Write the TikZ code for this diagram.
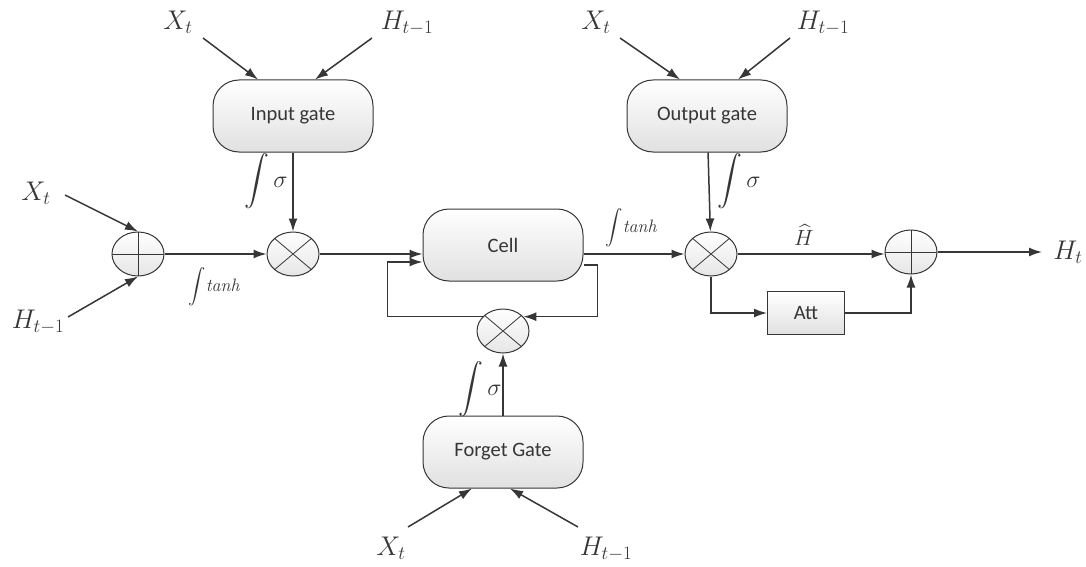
\RequirePackage{fix-cm}
\documentclass[tikz,border=0pt]{standalone}
\usepackage{amsmath}
\usepackage{fontspec}
\setsansfont{Carlito}
\usepackage{tikz}
\usetikzlibrary{shapes.geometric,arrows.meta}
\definecolor{ink}{HTML}{363636}
\tikzset{%
  gate/.style    = {draw=ink, line width=1pt, rectangle, rounded corners=26pt,
    minimum width=160pt, minimum height=72pt, top color=white,
    bottom color=black!12, font=\sffamily\fontsize{20.5}{24}\selectfont},
  mult/.style    = {draw=ink, line width=1pt, ellipse, minimum width=52pt,
    minimum height=44pt, inner sep=0pt, top color=white, bottom color=black!10,
    path picture={\draw[ink, line width=0.8pt]
      (path picture bounding box.north west) -- (path picture bounding box.south east)
      (path picture bounding box.north east) -- (path picture bounding box.south west);}}, % Multiplier
  adder/.style   = {draw=ink, line width=1pt, ellipse, minimum width=52pt,
    minimum height=44pt, inner sep=0pt, top color=white, bottom color=black!10,
    path picture={\draw[ink, line width=0.8pt]
      (path picture bounding box.north) -- (path picture bounding box.south)
      (path picture bounding box.west) -- (path picture bounding box.east);}}, % Adder
  attbox/.style  = {draw=ink, line width=1pt, rectangle, minimum width=77pt,
    minimum height=43pt, top color=white, bottom color=black!12,
    font=\sffamily\fontsize{20.5}{24}\selectfont},
  lbl/.style     = {inner sep=1pt, font=\fontsize{27}{30}\selectfont},
  fn/.style      = {inner sep=0pt, font=\fontsize{24}{28}\selectfont},
  small/.style   = {inner sep=0pt, font=\itshape\fontsize{18}{20}\selectfont}
}

\begin{document}
\begin{tikzpicture}[x=1pt, y=-1pt, color=ink, line width=1.5pt,
  >={Latex[length=13pt,width=9pt]}]
\useasboundingbox (0,0) rectangle (1086,567);
\draw
    node at(293,116)[gate,name=igate]{Input gate}
    node at(707,116)[gate,name=ogate]{Output gate}
    node at(503,245)[gate,name=cell]{Cell}
    node at(503,452)[gate,name=fgate]{Forget Gate}

    node at(138,254)[adder,name=inadd]{}
    node at(293,254)[mult,name=imul]{}
    node at(503,331)[mult,name=fmul]{}
    node at(711,254)[mult,name=omul]{}
    node at(911,252)[adder,name=outadd]{}
    node at(806,313)[attbox,name=att]{Att}

    node at(178,22)[lbl,name=xin]{$X_t$}
    node at(407,23)[lbl,name=hin]{$H_{t-1}$}
    node at(596,22)[lbl,name=xout]{$X_t$}
    node at(823,23)[lbl,name=hout]{$H_{t-1}$}
    node at(36,193)[lbl,name=xcell]{$X_t$}
    node at(38,322)[lbl,name=hcell]{$H_{t-1}$}
    node at(391,548)[lbl,name=xfgt]{$X_t$}
    node at(606,549)[lbl,name=hfgt]{$H_{t-1}$}
    node at(1068,252)[lbl,name=ht]{$H_t$}
;

    % starts of the input arrows
    \coordinate (xin0) at (203,38);
    \coordinate (hin0) at (372,38);
    \coordinate (xout0) at (620,38);
    \coordinate (hout0) at (790,38);
    \coordinate (xcell0) at (65,195);
    \coordinate (hcell0) at (68,317);
    \coordinate (xfgt0) at (408,527);
    \coordinate (hfgt0) at (578,527);
    \coordinate (hend) at (1042,252);

    \draw[->](xin0) -- ([xshift=-35pt]igate.north);
    \draw[->](hin0) -- ([xshift=22pt]igate.north);
    \draw[->](xout0) -- ([xshift=-27pt]ogate.north);
    \draw[->](hout0) -- ([xshift=31pt]ogate.north);
    \draw[->](xcell0) -- (inadd.north);
    \draw[->](hcell0) -- (inadd.south);
    \draw[->](xfgt0) -- ([xshift=-31pt]fgate.south);
    \draw[->](hfgt0) -- ([xshift=7pt]fgate.south);

    \draw[->](inadd) -- (imul);
    \draw[->](igate) -- (imul);
    \draw[->](imul) -- (imul -| cell.west);
    \draw[->](cell.east |- omul) -- (omul);
    \draw[->](ogate) -- (omul);
    \draw[->](omul) -- (omul -| outadd.west);
    \draw[->](outadd) -- (hend);
    \draw[->](omul) |- (att);
    \draw[->](att) -| (outadd);

    \draw[->](fgate) -- (fmul);
    \draw[->]([yshift=-20pt]cell.east) -- ++(14,0) |- (fmul.35);
    \draw[->](fmul.145) -| ([xshift=-35pt,yshift=-17pt]cell.west) -- ([yshift=-17pt]cell.west);

    \node at(266,181)[fn]{$\displaystyle\int\sigma$};
    \node at(739,181)[fn]{$\displaystyle\int\sigma$};
    \node at(480,389)[fn]{$\displaystyle\int\sigma$};
    \node at(214,287)[small]{$\displaystyle\int$tanh};
    \node at(631,228)[small]{$\displaystyle\int$tanh};
    \node at(804,235)[lbl, font=\fontsize{22}{24}\selectfont]{$\widehat{H}$};
\end{tikzpicture}
\end{document}
